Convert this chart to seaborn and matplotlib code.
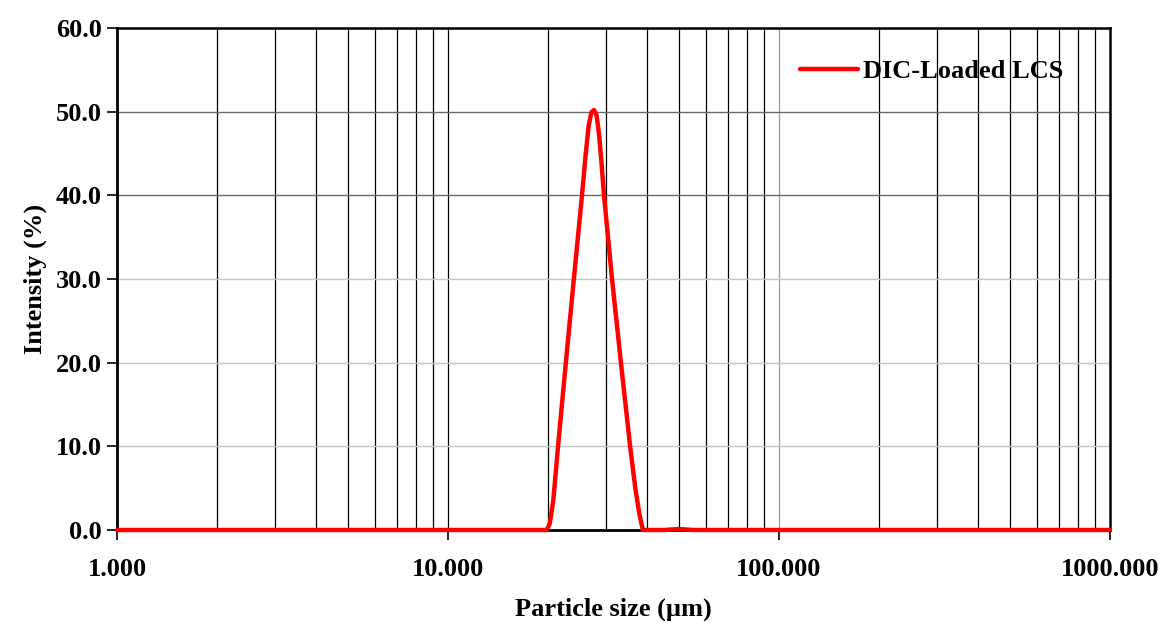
import matplotlib
matplotlib.use("Agg")
import matplotlib.pyplot as plt
import seaborn as sns
import pandas as pd
from matplotlib.ticker import FixedLocator, FuncFormatter

# ---- data ----
size_um = [1.0, 5.0, 10.0, 15.0, 19.0, 19.9, 20.3, 20.8, 21.5, 22.7, 24.0, 25.4,
           26.0, 26.6, 27.1, 27.6, 28.1, 28.6, 29.1, 29.6, 31.3, 33.3, 35.5, 36.8,
           37.9, 38.8, 45.0, 50.0, 55.0, 100.0, 500.0, 1000.0]
intensity = [0.0, 0.0, 0.0, 0.0, 0.0, 0.0, 0.8, 3.5, 10.0, 20.0, 30.0, 40.0,
             44.5, 48.3, 49.9, 50.2, 49.6, 47.3, 43.8, 40.0, 30.0, 20.0, 10.0, 5.0,
             1.8, 0.0, 0.0, 0.12, 0.0, 0.0, 0.0, 0.0]
series_name = "DIC-Loaded LCS"
y_ticks = [0, 10, 20, 30, 40, 50, 60]
x_ticks = [1, 10, 100, 1000]

df = pd.DataFrame({"size": size_um, "intensity": intensity, "series": series_name})

sns.set_style("white")
plt.rcParams["font.family"] = ["Liberation Serif", "DejaVu Serif"]
plt.rcParams["font.weight"] = "bold"
plt.rcParams["text.color"] = "black"
plt.rcParams["axes.labelcolor"] = "black"
plt.rcParams["xtick.color"] = "black"
plt.rcParams["ytick.color"] = "black"

fig = plt.figure(figsize=(11.62, 6.23), dpi=100)
ax = fig.add_axes([117 / 1162, 93 / 623, (1110 - 117) / 1162, (530 - 28) / 623])

ax.set_xscale("log")
ax.set_xlim(1, 1000)
ax.set_ylim(0, 60)

# grid lines
for dec in [1, 10, 100]:
    for m in range(2, 10):
        ax.axvline(dec * m, color="black", lw=0.9, zorder=0)
ax.axvline(10, color="black", lw=0.9, zorder=0)
ax.axvline(100, color="#9a9a9a", lw=0.9, zorder=0)
for yv, c in zip([10, 20, 30, 40, 50], ["#c4c4c4", "#c4c4c4", "#c4c4c4", "#6a6a6a", "#6a6a6a"]):
    ax.axhline(yv, color=c, lw=1.0, zorder=0)

sns.lineplot(data=df, x="size", y="intensity", hue="series", palette=["#ff0000"],
             lw=3.2, ax=ax, zorder=3, clip_on=False, sort=False)

ax.xaxis.set_major_locator(FixedLocator(x_ticks))
ax.xaxis.set_minor_locator(FixedLocator([]))
ax.xaxis.set_major_formatter(FuncFormatter(lambda v, p: f"{v:.3f}"))
ax.yaxis.set_major_locator(FixedLocator(y_ticks))
ax.yaxis.set_major_formatter(FuncFormatter(lambda v, p: f"{v:.1f}"))

for s in ["left", "bottom"]:
    ax.spines[s].set_color("black")
    ax.spines[s].set_linewidth(2.0)
for s in ["top", "right"]:
    ax.spines[s].set_color("black")
    ax.spines[s].set_linewidth(1.8)

ax.tick_params(axis="both", which="major", direction="out", length=7, width=1.2,
               color="black", labelcolor="black", labelsize=19, left=True, bottom=True)
ax.tick_params(axis="x", pad=13)
ax.tick_params(axis="y", pad=4)
for lab in ax.get_xticklabels() + ax.get_yticklabels():
    lab.set_fontweight("bold")

ax.set_xlabel("Particle size (\u00b5m)", fontsize=19, fontweight="bold", labelpad=12, color="black")
ax.set_ylabel("Intensity (%)", fontsize=19, fontweight="bold", labelpad=6, color="black")

leg = ax.legend(loc="upper right", frameon=False, fontsize=19, handlelength=2.2,
                handletextpad=0.2, bbox_to_anchor=(0.977, 0.985))
for t in leg.get_texts():
    t.set_fontweight("bold")
    t.set_color("black")
for l in leg.get_lines():
    l.set_linewidth(3.2)

fig.savefig("out.png", dpi=100)
